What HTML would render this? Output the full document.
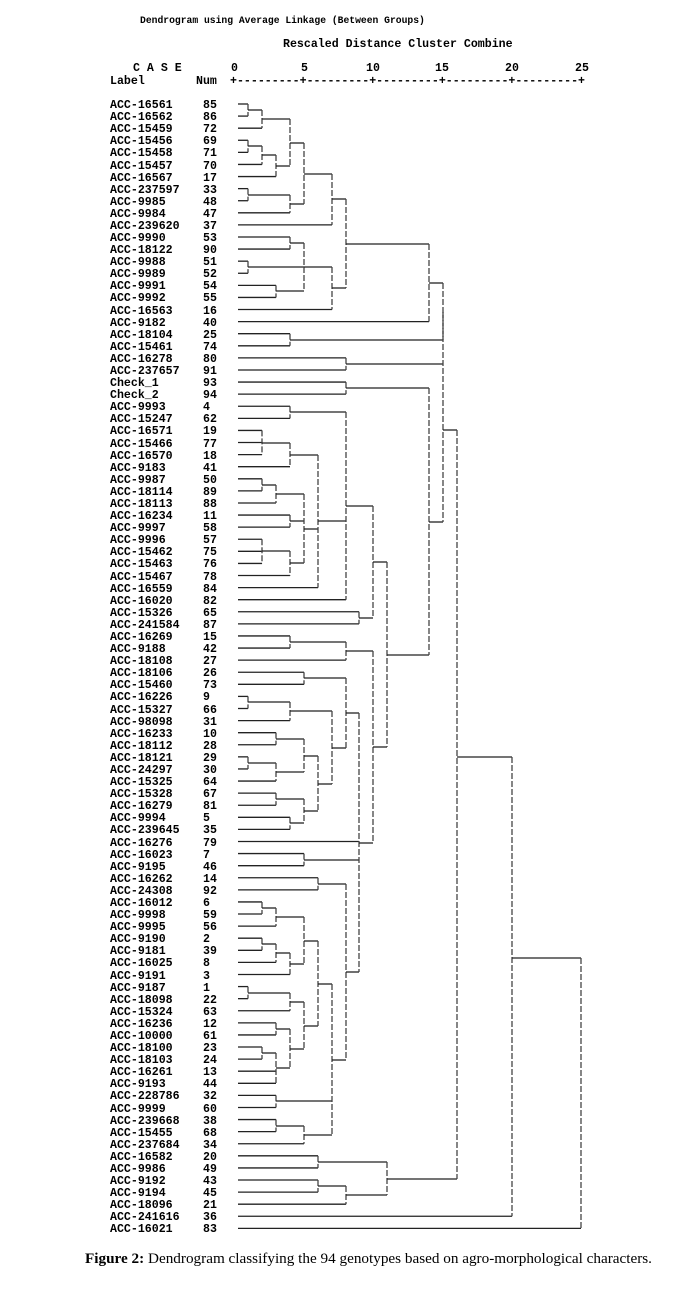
<!DOCTYPE html>
<html><head><meta charset="utf-8">
<style>
html,body{margin:0;padding:0;background:#fff;}
body{width:697px;height:1297px;overflow:hidden;position:relative;}
svg{position:absolute;left:0;top:0;}
.m{font-family:"Liberation Mono",monospace;font-weight:bold;fill:#000;}
.lb{font-size:11.6px;}
.cap{font-family:"Liberation Serif",serif;font-size:15.2px;fill:#000;}
</style></head><body>
<svg id="s" width="697" height="1297" xmlns="http://www.w3.org/2000/svg">
<text class="m" x="140" y="23" font-size="9.7">Dendrogram using Average Linkage (Between Groups)</text>
<text class="m lb" x="283" y="47">Rescaled Distance Cluster Combine</text>
<text class="m lb" x="133" y="71">C A S E</text>
<text class="m lb" x="231" y="71">0</text>
<text class="m lb" x="301" y="71">5</text>
<text class="m lb" x="366" y="71">10</text>
<text class="m lb" x="435" y="71">15</text>
<text class="m lb" x="505" y="71">20</text>
<text class="m lb" x="575" y="71">25</text>
<text class="m lb" x="110" y="84">Label</text>
<text class="m lb" x="196" y="84">Num</text>
<text class="m lb" x="230" y="84" textLength="355" lengthAdjust="spacing">+---------+---------+---------+---------+---------+</text>
<g class="m lb" id="labels">
<text x="110" y="108">ACC-16561</text><text x="203" y="108">85</text>
<text x="110" y="120">ACC-16562</text><text x="203" y="120">86</text>
<text x="110" y="132">ACC-15459</text><text x="203" y="132">72</text>
<text x="110" y="144">ACC-15456</text><text x="203" y="144">69</text>
<text x="110" y="156">ACC-15458</text><text x="203" y="156">71</text>
<text x="110" y="169">ACC-15457</text><text x="203" y="169">70</text>
<text x="110" y="181">ACC-16567</text><text x="203" y="181">17</text>
<text x="110" y="193">ACC-237597</text><text x="203" y="193">33</text>
<text x="110" y="205">ACC-9985</text><text x="203" y="205">48</text>
<text x="110" y="217">ACC-9984</text><text x="203" y="217">47</text>
<text x="110" y="229">ACC-239620</text><text x="203" y="229">37</text>
<text x="110" y="241">ACC-9990</text><text x="203" y="241">53</text>
<text x="110" y="253">ACC-18122</text><text x="203" y="253">90</text>
<text x="110" y="265">ACC-9988</text><text x="203" y="265">51</text>
<text x="110" y="277">ACC-9989</text><text x="203" y="277">52</text>
<text x="110" y="289">ACC-9991</text><text x="203" y="289">54</text>
<text x="110" y="301">ACC-9992</text><text x="203" y="301">55</text>
<text x="110" y="314">ACC-16563</text><text x="203" y="314">16</text>
<text x="110" y="326">ACC-9182</text><text x="203" y="326">40</text>
<text x="110" y="338">ACC-18104</text><text x="203" y="338">25</text>
<text x="110" y="350">ACC-15461</text><text x="203" y="350">74</text>
<text x="110" y="362">ACC-16278</text><text x="203" y="362">80</text>
<text x="110" y="374">ACC-237657</text><text x="203" y="374">91</text>
<text x="110" y="386">Check_1</text><text x="203" y="386">93</text>
<text x="110" y="398">Check_2</text><text x="203" y="398">94</text>
<text x="110" y="410">ACC-9993</text><text x="203" y="410">4</text>
<text x="110" y="422">ACC-15247</text><text x="203" y="422">62</text>
<text x="110" y="434">ACC-16571</text><text x="203" y="434">19</text>
<text x="110" y="447">ACC-15466</text><text x="203" y="447">77</text>
<text x="110" y="459">ACC-16570</text><text x="203" y="459">18</text>
<text x="110" y="471">ACC-9183</text><text x="203" y="471">41</text>
<text x="110" y="483">ACC-9987</text><text x="203" y="483">50</text>
<text x="110" y="495">ACC-18114</text><text x="203" y="495">89</text>
<text x="110" y="507">ACC-18113</text><text x="203" y="507">88</text>
<text x="110" y="519">ACC-16234</text><text x="203" y="519">11</text>
<text x="110" y="531">ACC-9997</text><text x="203" y="531">58</text>
<text x="110" y="543">ACC-9996</text><text x="203" y="543">57</text>
<text x="110" y="555">ACC-15462</text><text x="203" y="555">75</text>
<text x="110" y="567">ACC-15463</text><text x="203" y="567">76</text>
<text x="110" y="580">ACC-15467</text><text x="203" y="580">78</text>
<text x="110" y="592">ACC-16559</text><text x="203" y="592">84</text>
<text x="110" y="604">ACC-16020</text><text x="203" y="604">82</text>
<text x="110" y="616">ACC-15326</text><text x="203" y="616">65</text>
<text x="110" y="628">ACC-241584</text><text x="203" y="628">87</text>
<text x="110" y="640">ACC-16269</text><text x="203" y="640">15</text>
<text x="110" y="652">ACC-9188</text><text x="203" y="652">42</text>
<text x="110" y="664">ACC-18108</text><text x="203" y="664">27</text>
<text x="110" y="676">ACC-18106</text><text x="203" y="676">26</text>
<text x="110" y="688">ACC-15460</text><text x="203" y="688">73</text>
<text x="110" y="700">ACC-16226</text><text x="203" y="700">9</text>
<text x="110" y="713">ACC-15327</text><text x="203" y="713">66</text>
<text x="110" y="725">ACC-98098</text><text x="203" y="725">31</text>
<text x="110" y="737">ACC-16233</text><text x="203" y="737">10</text>
<text x="110" y="749">ACC-18112</text><text x="203" y="749">28</text>
<text x="110" y="761">ACC-18121</text><text x="203" y="761">29</text>
<text x="110" y="773">ACC-24297</text><text x="203" y="773">30</text>
<text x="110" y="785">ACC-15325</text><text x="203" y="785">64</text>
<text x="110" y="797">ACC-15328</text><text x="203" y="797">67</text>
<text x="110" y="809">ACC-16279</text><text x="203" y="809">81</text>
<text x="110" y="821">ACC-9994</text><text x="203" y="821">5</text>
<text x="110" y="833">ACC-239645</text><text x="203" y="833">35</text>
<text x="110" y="846">ACC-16276</text><text x="203" y="846">79</text>
<text x="110" y="858">ACC-16023</text><text x="203" y="858">7</text>
<text x="110" y="870">ACC-9195</text><text x="203" y="870">46</text>
<text x="110" y="882">ACC-16262</text><text x="203" y="882">14</text>
<text x="110" y="894">ACC-24308</text><text x="203" y="894">92</text>
<text x="110" y="906">ACC-16012</text><text x="203" y="906">6</text>
<text x="110" y="918">ACC-9998</text><text x="203" y="918">59</text>
<text x="110" y="930">ACC-9995</text><text x="203" y="930">56</text>
<text x="110" y="942">ACC-9190</text><text x="203" y="942">2</text>
<text x="110" y="954">ACC-9181</text><text x="203" y="954">39</text>
<text x="110" y="966">ACC-16025</text><text x="203" y="966">8</text>
<text x="110" y="979">ACC-9191</text><text x="203" y="979">3</text>
<text x="110" y="991">ACC-9187</text><text x="203" y="991">1</text>
<text x="110" y="1003">ACC-18098</text><text x="203" y="1003">22</text>
<text x="110" y="1015">ACC-15324</text><text x="203" y="1015">63</text>
<text x="110" y="1027">ACC-16236</text><text x="203" y="1027">12</text>
<text x="110" y="1039">ACC-10000</text><text x="203" y="1039">61</text>
<text x="110" y="1051">ACC-18100</text><text x="203" y="1051">23</text>
<text x="110" y="1063">ACC-18103</text><text x="203" y="1063">24</text>
<text x="110" y="1075">ACC-16261</text><text x="203" y="1075">13</text>
<text x="110" y="1087">ACC-9193</text><text x="203" y="1087">44</text>
<text x="110" y="1099">ACC-228786</text><text x="203" y="1099">32</text>
<text x="110" y="1112">ACC-9999</text><text x="203" y="1112">60</text>
<text x="110" y="1124">ACC-239668</text><text x="203" y="1124">38</text>
<text x="110" y="1136">ACC-15455</text><text x="203" y="1136">68</text>
<text x="110" y="1148">ACC-237684</text><text x="203" y="1148">34</text>
<text x="110" y="1160">ACC-16582</text><text x="203" y="1160">20</text>
<text x="110" y="1172">ACC-9986</text><text x="203" y="1172">49</text>
<text x="110" y="1184">ACC-9192</text><text x="203" y="1184">43</text>
<text x="110" y="1196">ACC-9194</text><text x="203" y="1196">45</text>
<text x="110" y="1208">ACC-18096</text><text x="203" y="1208">21</text>
<text x="110" y="1220">ACC-241616</text><text x="203" y="1220">36</text>
<text x="110" y="1232">ACC-16021</text><text x="203" y="1232">83</text>
</g>
<g id="tree"></g>
<text class="cap" x="85" y="1263"><tspan font-weight="bold">Figure 2:</tspan> Dendrogram classifying the 94 genotypes based on agro-morphological characters.</text>
</svg>
<script>
function M(x){return {x:x,c:Array.prototype.slice.call(arguments,1)};}
function MY(x,y){var n=M.apply(null,[x].concat(Array.prototype.slice.call(arguments,2)));n.y=y;return n;}
var a1=M(262,M(248,0,1),2), a2=M(276,M(262,M(248,3,4),5),6);
var a5=M(304,M(290,a1,a2),M(290,M(248,7,8),9));
var a6=M(332,a5,10);
var b2=M(332,M(304,M(290,11,12),M(248,13,14),M(276,15,16)),17);
var A=M(443,M(429,M(346,a6,b2),18),M(290,19,20));
var C318=M(318,M(290,M(262,27,28,29),30),M(304,M(276,M(262,31,32),33),M(290,34,35),M(290,M(262,36,37,38),39)),40);
var C373a=M(373,M(346,M(290,25,26),C318,41),M(359,42,43));
var C304b=M(304,M(276,57,58),M(290,59,60));
var C332=M(332,M(290,M(248,49,50),51),M(318,M(304,M(276,52,53),M(276,M(248,54,55),56)),C304b));
var C346c=M(346,M(304,47,48),C332);
var C304d=M(304,M(276,M(262,66,67),68),M(290,M(276,M(262,69,70),71),72));
var C304e=M(304,M(290,M(248,73,74),75),M(290,M(276,76,77),M(276,M(262,78,79),80,81)));
var C332d=M(332,M(318,C304d,C304e),M(276,82,83),M(304,M(276,84,85),86));
var C346d=M(346,M(318,64,65),C332d);
var C359b=M(359,C346c,61,M(304,62,63),C346d);
var C373b=M(373,M(346,M(290,44,45),46),C359b);
var C429=M(429,M(346,23,24),M(387,C373a,C373b));
var C443=MY(443,430,A,M(346,21,22),C429);
var D=M(387,M(318,87,88),M(346,M(318,89,90),91));
var root=M(581,MY(512,958,MY(457,757,C443,D),92),93);
var g=document.getElementById('tree'),out='';
function Y(i){return 104+i*12.09;}
function draw(n){
  if(typeof n==='number') return {x:238,y:Y(n)};
  var ys=[],i,r;
  for(i=0;i<n.c.length;i++){
    r=draw(n.c[i]);
    out+='<line x1="'+r.x+'" y1="'+r.y+'" x2="'+n.x+'" y2="'+r.y+'" stroke="#222" stroke-width="1.3"/>';
    ys.push(r.y);
  }
  var y0=Math.min.apply(null,ys),y1=Math.max.apply(null,ys);
  out+='<line x1="'+n.x+'" y1="'+y0+'" x2="'+n.x+'" y2="'+y1+'" stroke="#444" stroke-width="1.3" stroke-dasharray="6,2"/>';
  return {x:n.x,y:(n.y!==undefined?n.y:Math.round((y0+y1)/2))};
}
draw(root);
g.innerHTML=out;
</script>
</body></html>
